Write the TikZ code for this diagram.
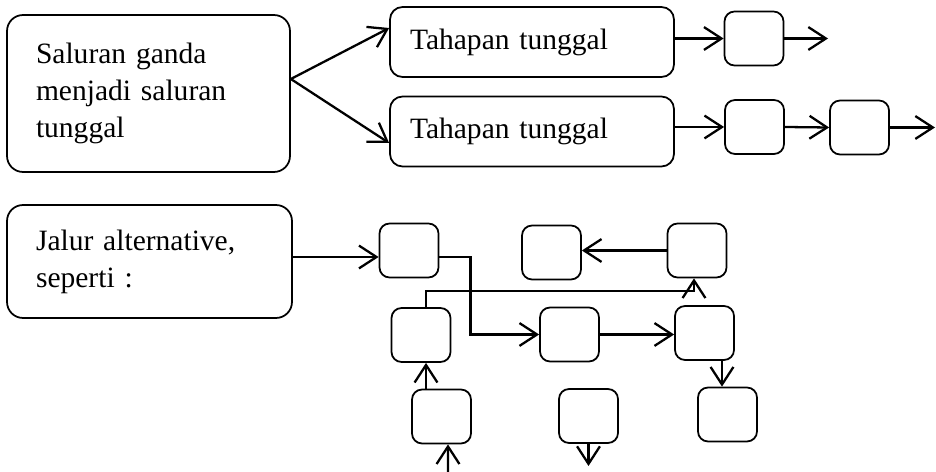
\documentclass[tikz,border=0pt]{standalone}
\usepackage{fontspec}
\setmainfont{Liberation Serif}
\usetikzlibrary{arrows.meta}
\begin{document}
\begin{tikzpicture}[x=0.02cm,y=-0.02cm,
  kotakbesar/.style={draw,line width=1pt,rounded corners=0.32cm,inner sep=0pt,align=left,font=\fontsize{16.8}{21}\selectfont},
  tahapan/.style={draw,line width=1pt,rounded corners=0.25cm,inner sep=0pt,minimum width=5.68cm,minimum height=1.4cm,text width=4.88cm,align=left,font=\fontsize{16.8}{21}\selectfont},
  kotak/.style={draw,line width=1pt,rounded corners=0.2cm,minimum width=1.18cm,minimum height=1.08cm},
  panah/.style={line width=1.3pt,-{Straight Barb[length=10pt,width=13pt,line width=1.3pt]}}]
\useasboundingbox (0,0) rectangle (936,472);
\node[kotakbesar,minimum width=5.66cm,minimum height=3.14cm,text width=4.5cm] (saluran) at (148.5,93.5) {Saluran ganda\\menjadi saluran\\tunggal};
\node[tahapan] (tahap1) at (532,42) {Tahapan tunggal};
\node[tahapan] (tahap2) at (532,131.5) {Tahapan tunggal};
\node[kotak] (kecil1) at (754,38.5) {};
\node[kotak] (kecil2) at (754.5,127) {};
\node[kotak] (kecil3) at (859.5,127.5) {};
\coordinate (keluar1) at (828,38.5);
\coordinate (keluar2) at (935,127.5);
\coordinate (cabang) at ([yshift=0.29cm]saluran.east);
\path[draw,panah] (cabang) -- ([yshift=0.28cm]tahap1.west);
\path[draw,panah] (cabang) -- ([yshift=-0.23cm]tahap2.west);
\path[draw,panah] (tahap1.east |- kecil1.west) -- (kecil1.west);
\path[draw,panah] (kecil1.east) -- (keluar1);
\path[draw,panah] (tahap2.east |- kecil2.west) -- (kecil2.west);
\path[draw,panah] (kecil2.east) -- (kecil3.west);
\path[draw,panah] (kecil3.east) -- (keluar2);
\node[kotakbesar,minimum width=5.7cm,minimum height=2.26cm,text width=4.54cm] (jalur) at (149.5,261.5) {Jalur alternative,\\seperti :};
\node[kotak] (a) at (409,250.5) {};
\node[kotak] (b) at (551.5,252.5) {};
\node[kotak] (c) at (697,250.5) {};
\node[kotak] (d) at (421,335) {};
\node[kotak] (e) at (569.5,334.5) {};
\node[kotak] (f) at (704.5,333) {};
\node[kotak] (g) at (441.5,416.5) {};
\node[kotak] (h) at (588.5,416) {};
\node[kotak] (i) at (727.5,414.5) {};
\coordinate (j1) at ([yshift=0.09cm]jalur.east);
\coordinate (f1) at ([xshift=0.35cm]f.south);
\coordinate (g1) at ([xshift=-0.31cm]g.north);
\coordinate (g2) at ([xshift=0.13cm]g.south);
\coordinate (bawah1) at (448,472);
\coordinate (bawah2) at (588.5,466);
\path[draw,panah] (j1) -- (j1 -| a.west);
\path[draw,panah] ([yshift=-0.13cm]a.east) -- ++(31,0) |- (e.west);
\path[draw,panah] ([xshift=0.1cm]d.north) -- ++(0,-16) -| ([xshift=-0.06cm]c.south);
\path[draw,panah] (c.west) -- (c.west -| b.east);
\path[draw,panah] (e.east) -- (e.east -| f.west);
\path[draw,panah] (f1) -- (f1 |- i.north);
\path[draw,panah] (g1) -- (g1 |- d.south);
\path[draw,panah] (bawah1) -- (g2);
\path[draw,panah] (h.south) -- (bawah2);
\end{tikzpicture}
\end{document}
